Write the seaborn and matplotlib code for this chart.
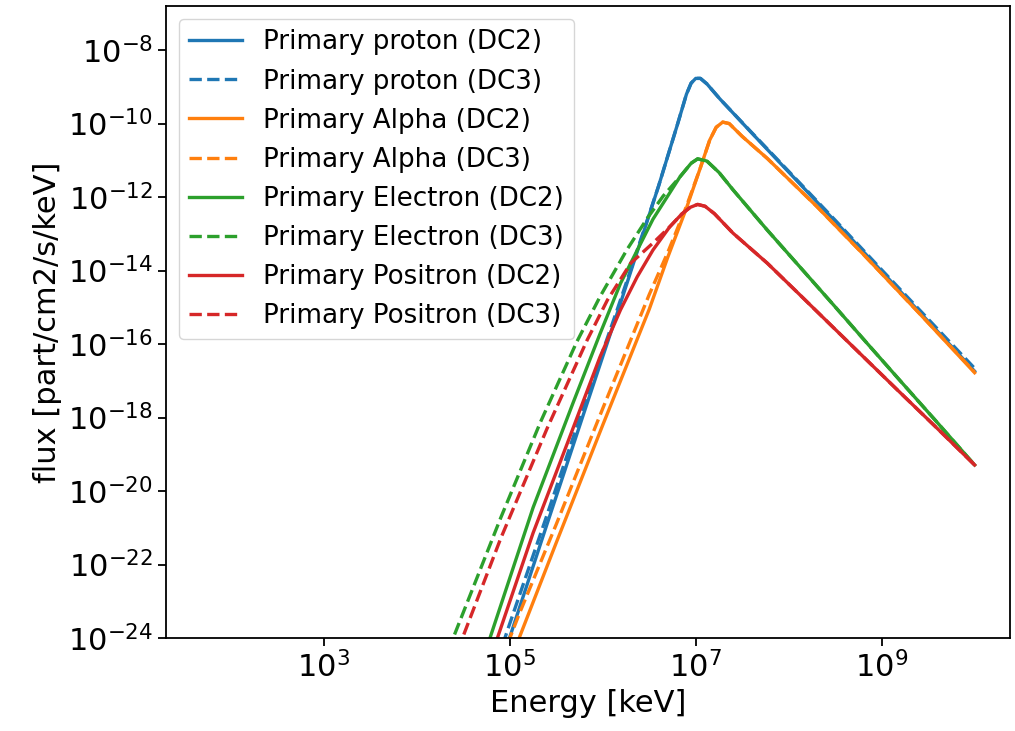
import numpy as np
import pandas as pd
import matplotlib
matplotlib.use("Agg")
import matplotlib.pyplot as plt
import seaborn as sns

# ---- data (log10 of energy in keV and of flux) ----
proton_E = [4.8, 5.0, 5.4, 5.8, 6.15, 6.33, 6.6, 6.8, 6.9, 6.95, 7.0, 7.05, 7.12, 7.26, 7.6, 8.0, 8.5, 9.0, 9.5, 10.0]
proton_dc2 = [-25.5, -23.97, -20.9, -17.85, -15.2, -13.8, -11.7, -10.05, -9.2, -8.9, -8.77, -8.77, -8.92, -9.33, -10.25, -11.32, -12.66, -14.02, -15.38, -16.74]
proton_dc3 = [-25.1, -23.6, -20.65, -17.65, -15.1, -13.75, -11.7, -10.05, -9.2, -8.9, -8.77, -8.77, -8.92, -9.33, -10.24, -11.3, -12.63, -13.98, -15.32, -16.66]

alpha_E = [4.9, 5.0, 5.1, 5.5, 6.0, 6.5, 6.7, 6.9, 7.05, 7.15, 7.22, 7.29, 7.36, 7.5, 7.77, 8.3, 8.8, 9.4, 10.0]
alpha_dc2 = [-25.3, -24.65, -24.0, -21.4, -18.2, -15.05, -13.63, -12.3, -11.2, -10.45, -10.1, -9.96, -10.0, -10.35, -10.95, -12.25, -13.55, -15.15, -16.78]
alpha_dc3 = [-24.6, -24.0, -23.35, -20.9, -17.75, -14.65, -13.5, -12.25, -11.2, -10.45, -10.1, -9.96, -10.0, -10.35, -10.95, -12.25, -13.55, -15.15, -16.76]

electron_dc2_E = [4.6, 4.79, 5.25, 5.68, 5.97, 6.19, 6.54, 6.83, 6.95, 7.02, 7.12, 7.25, 7.4, 7.77, 8.12, 8.48, 8.84, 9.2, 9.6, 10.0]
electron_dc2 = [-25.47, -23.97, -20.45, -17.6, -15.72, -14.35, -12.6, -11.45, -11.08, -10.96, -11.02, -11.33, -11.8, -12.9, -13.9, -14.93, -15.97, -17.0, -18.14, -19.29]
electron_dc3_E = [4.2, 4.39, 4.9, 5.33, 5.72, 5.97, 6.26, 6.48, 6.65, 6.83, 6.95, 7.02, 7.12, 7.25, 7.4, 7.77, 8.12, 8.48, 8.84, 9.2, 9.6, 10.0]
electron_dc3 = [-25.25, -24.0, -20.74, -18.12, -15.94, -14.71, -13.43, -12.57, -11.97, -11.45, -11.08, -10.96, -11.02, -11.33, -11.8, -12.9, -13.9, -14.93, -15.97, -17.0, -18.14, -19.29]

positron_dc2_E = [4.7, 4.87, 5.25, 5.62, 5.97, 6.19, 6.37, 6.54, 6.72, 6.85, 6.94, 7.02, 7.1, 7.2, 7.4, 7.77, 8.12, 8.63, 9.17, 9.6, 10.0]
positron_dc2 = [-25.25, -23.97, -21.14, -18.69, -16.35, -15.07, -14.17, -13.44, -12.81, -12.46, -12.28, -12.2, -12.25, -12.45, -12.98, -13.8, -14.66, -15.92, -17.25, -18.3, -19.29]
positron_dc3_E = [4.3, 4.49, 4.9, 5.4, 5.83, 6.05, 6.3, 6.54, 6.72, 6.85, 6.94, 7.02, 7.1, 7.2, 7.4, 7.77, 8.12, 8.63, 9.17, 9.6, 10.0]
positron_dc3 = [-25.25, -24.0, -21.3, -18.3, -15.9, -14.8, -13.8, -13.25, -12.81, -12.46, -12.28, -12.2, -12.25, -12.45, -12.98, -13.8, -14.66, -15.92, -17.25, -18.3, -19.29]

labels = ["Primary proton (DC2)", "Primary proton (DC3)",
          "Primary Alpha (DC2)", "Primary Alpha (DC3)",
          "Primary Electron (DC2)", "Primary Electron (DC3)",
          "Primary Positron (DC2)", "Primary Positron (DC3)"]
energies = [proton_E, proton_E, alpha_E, alpha_E,
            electron_dc2_E, electron_dc3_E, positron_dc2_E, positron_dc3_E]
fluxes = [proton_dc2, proton_dc3, alpha_dc2, alpha_dc3,
          electron_dc2, electron_dc3, positron_dc2, positron_dc3]
colors = ["#1f77b4", "#1f77b4", "#ff7f0e", "#ff7f0e",
          "#2ca02c", "#2ca02c", "#d62728", "#d62728"]
styles = ["-", "--", "-", "--", "-", "--", "-", "--"]

fig = plt.figure(figsize=(10.15, 7.31), dpi=100)
ax = fig.add_axes([0.1635, 0.1272, 0.8315, 0.8646])
ax.set_xscale("log")
ax.set_yscale("log")

for lab, E, F, c, ls in zip(labels, energies, fluxes, colors, styles):
    df = pd.DataFrame({"Energy": 10 ** np.array(E), "flux": 10 ** np.array(F)})
    sns.lineplot(data=df, x="Energy", y="flux", ax=ax, color=c, linestyle=ls,
                 linewidth=2.4, label=lab, sort=False, estimator=None)

ax.set_xlim(10 ** 1.3, 10 ** 10.38)
ax.set_ylim(1e-24, 10 ** -6.8)
ax.set_xticks([1e3, 1e5, 1e7, 1e9])
ax.set_yticks([10.0 ** k for k in range(-24, -7, 2)])
ax.minorticks_off()
ax.tick_params(labelsize=22, length=6, width=1.3)
for s in ax.spines.values():
    s.set_linewidth(1.3)
ax.set_xlabel("Energy [keV]", fontsize=22)
ax.set_ylabel("flux [part/cm2/s/keV]", fontsize=22)
ax.legend(loc="upper left", fontsize=18.8)

fig.savefig("out.png", dpi=100)
